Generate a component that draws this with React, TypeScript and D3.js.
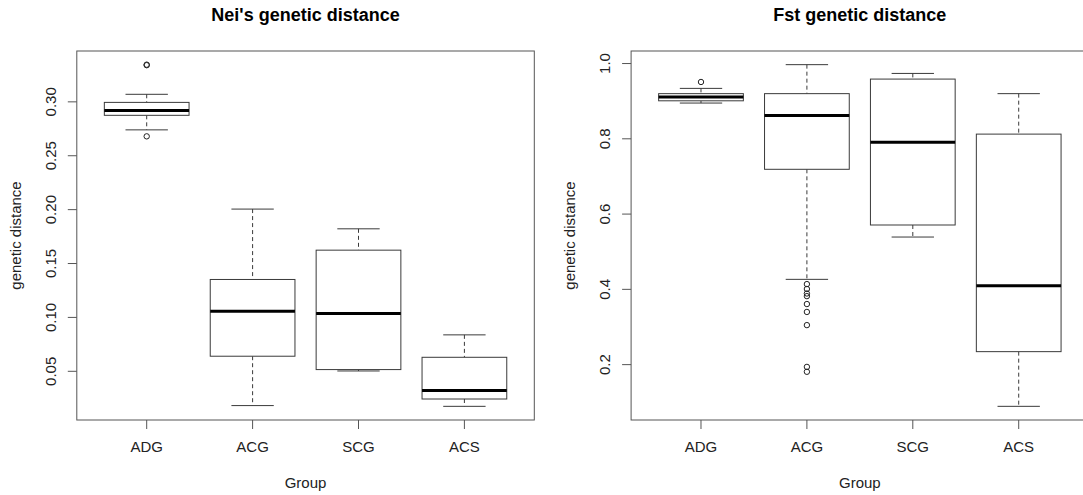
import React, { useEffect, useRef } from 'react';
import * as d3 from 'd3';

const groups = ['ADG', 'ACG', 'SCG', 'ACS'];

// Nei's genetic distance, per group
const neiLowWhisker = [0.274, 0.0182, 0.0503, 0.0175];
const neiQ1 = [0.2875, 0.064, 0.0516, 0.0243];
const neiMedian = [0.292, 0.1058, 0.1036, 0.0321];
const neiQ3 = [0.2995, 0.1352, 0.1624, 0.063];
const neiHighWhisker = [0.307, 0.2005, 0.1822, 0.0838];
const neiOutliers = [[0.268, 0.334, 0.3345], [], [], []];
const neiTicks = [0.05, 0.1, 0.15, 0.2, 0.25, 0.3];
const neiTickLabels = ['0.05', '0.10', '0.15', '0.20', '0.25', '0.30'];

// Fst genetic distance, per group
const fstLowWhisker = [0.895, 0.4266, 0.539, 0.0892];
const fstQ1 = [0.901, 0.719, 0.571, 0.2345];
const fstMedian = [0.911, 0.862, 0.791, 0.4098];
const fstQ3 = [0.92, 0.92, 0.9587, 0.8125];
const fstHighWhisker = [0.934, 0.997, 0.9737, 0.92];
const fstOutliers = [[0.951], [0.414, 0.401, 0.389, 0.382, 0.361, 0.34, 0.305, 0.194, 0.181], [], []];
const fstTicks = [0.2, 0.4, 0.6, 0.8, 1.0];
const fstTickLabels = ['0.2', '0.4', '0.6', '0.8', '1.0'];

const FONT = '"Liberation Sans", Arial, sans-serif';
const LINE = '#3a3a3a';

function drawPanel(svg, opts) {
  const { left, right, top, bottom, title, lo, q1, med, q3, hi, outs, ticks, tickLabels } = opts;
  const all = [...lo, ...hi, ...outs.flat()];
  const mn = d3.min(all), mx = d3.max(all);
  const pad = (mx - mn) * 0.04;
  const y = d3.scaleLinear().domain([mn - pad, mx + pad]).range([bottom, top]);
  const x = d3.scaleLinear().domain([0.34, groups.length + 0.66]).range([left, right]);
  const unit = x(2) - x(1);
  const bw = unit * 0.8;
  const sw = bw / 2;
  const cx = (left + right) / 2;

  const g = svg.append('g');

  // frame
  g.append('rect').attr('x', left).attr('y', top).attr('width', right - left).attr('height', bottom - top)
    .attr('fill', 'none').attr('stroke', '#555').attr('stroke-width', 1);

  groups.forEach((name, i) => {
    const c = x(i + 1);
    // whiskers
    g.append('line').attr('x1', c).attr('x2', c).attr('y1', y(hi[i])).attr('y2', y(q3[i]))
      .attr('stroke', LINE).attr('stroke-dasharray', '4,3');
    g.append('line').attr('x1', c).attr('x2', c).attr('y1', y(q1[i])).attr('y2', y(lo[i]))
      .attr('stroke', LINE).attr('stroke-dasharray', '4,3');
    // staples
    [hi[i], lo[i]].forEach(v => {
      g.append('line').attr('x1', c - sw / 2).attr('x2', c + sw / 2).attr('y1', y(v)).attr('y2', y(v))
        .attr('stroke', LINE);
    });
    // box
    g.append('rect').attr('x', c - bw / 2).attr('y', y(q3[i])).attr('width', bw)
      .attr('height', Math.max(0.5, y(q1[i]) - y(q3[i])))
      .attr('fill', 'white').attr('stroke', LINE);
    // median
    g.append('line').attr('x1', c - bw / 2).attr('x2', c + bw / 2).attr('y1', y(med[i])).attr('y2', y(med[i]))
      .attr('stroke', '#000').attr('stroke-width', 3);
    // outliers
    outs[i].forEach(v => {
      g.append('circle').attr('cx', c).attr('cy', y(v)).attr('r', 2.7)
        .attr('fill', 'none').attr('stroke', '#222').attr('stroke-width', 1);
    });
    // x tick + label
    g.append('line').attr('x1', c).attr('x2', c).attr('y1', bottom).attr('y2', bottom + 9).attr('stroke', '#555');
    g.append('text').attr('x', c).attr('y', bottom + 32).attr('text-anchor', 'middle')
      .attr('font-family', FONT).attr('font-size', 15).attr('fill', '#222').text(name);
  });

  // y ticks
  ticks.forEach((t, i) => {
    g.append('line').attr('x1', left - 9).attr('x2', left).attr('y1', y(t)).attr('y2', y(t)).attr('stroke', '#555');
    g.append('text').attr('transform', `translate(${left - 21},${y(t)}) rotate(-90)`)
      .attr('text-anchor', 'middle').attr('font-family', FONT).attr('font-size', 15).attr('fill', '#222')
      .text(tickLabels[i]);
  });

  // titles and axis labels
  g.append('text').attr('x', cx).attr('y', 21).attr('text-anchor', 'middle')
    .attr('font-family', FONT).attr('font-size', 18).attr('font-weight', 'bold').attr('fill', '#000').text(title);
  g.append('text').attr('x', cx).attr('y', 488).attr('text-anchor', 'middle')
    .attr('font-family', FONT).attr('font-size', 15).attr('fill', '#222').text('Group');
  g.append('text').attr('transform', `translate(${left - 56},${(top + bottom) / 2}) rotate(-90)`)
    .attr('text-anchor', 'middle').attr('font-family', FONT).attr('font-size', 15).attr('fill', '#222')
    .text('genetic distance');
}

export default function App() {
  const svgRef = useRef(null);

  useEffect(() => {
    const svg = d3.select(svgRef.current);
    svg.selectAll('*').remove();

    drawPanel(svg, {
      left: 76.8, right: 534.3, top: 51, bottom: 420,
      title: "Nei's genetic distance",
      lo: neiLowWhisker, q1: neiQ1, med: neiMedian, q3: neiQ3, hi: neiHighWhisker,
      outs: neiOutliers, ticks: neiTicks, tickLabels: neiTickLabels,
    });
    drawPanel(svg, {
      left: 631.1, right: 1088.6, top: 51, bottom: 420,
      title: 'Fst genetic distance',
      lo: fstLowWhisker, q1: fstQ1, med: fstMedian, q3: fstQ3, hi: fstHighWhisker,
      outs: fstOutliers, ticks: fstTicks, tickLabels: fstTickLabels,
    });
  }, []);

  return (
    <svg ref={svgRef} width={1083} height={495}
      style={{ position: 'absolute', left: 0, top: 0, background: 'white' }} />
  );
}
